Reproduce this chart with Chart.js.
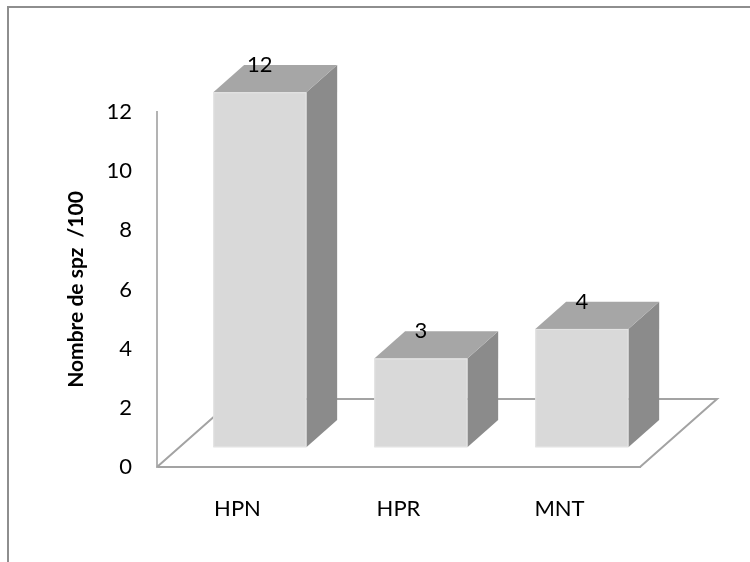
<!DOCTYPE html>
<html>
<head>
<meta charset="utf-8">
<script src="https://cdn.jsdelivr.net/npm/chart.js@4/dist/chart.umd.min.js"></script>
<style>
  html, body { margin: 0; padding: 0; background: #ffffff; }
  canvas { display: block; }
</style>
</head>
<body>
<canvas id="c" width="750" height="562"></canvas>
<script>
// Categories and measured values
const categories = ['HPN', 'HPR', 'MNT'];
const values = [12, 3, 4];
const yTicks = [0, 2, 4, 6, 8, 10, 12];
const yTitle = 'Nombre de spz  /100';

// Oblique projection used for the pseudo-3D floor and boxes
const FLOOR_DX = 77, FLOOR_DY = -68;     // depth of the floor
const FRONT_FRAC = 0.29;                  // where box front faces sit in the floor depth
const DEPTH_FRAC = 0.40;                  // box depth as a share of floor depth
const BAR_FRAC = 0.578;                   // box width as a share of category width

const FONT = 'Lato, "Liberation Sans", sans-serif';

const frame = {
  id: 'frame',
  beforeDraw(chart) {
    const ctx = chart.ctx;
    ctx.save();
    ctx.strokeStyle = '#8e8e8e';
    ctx.lineWidth = 2;
    ctx.beginPath();
    ctx.moveTo(8, 562);
    ctx.lineTo(8, 7);
    ctx.lineTo(750, 7);
    ctx.stroke();
    ctx.restore();
  }
};

const floor3d = {
  id: 'floor3d',
  beforeDatasetsDraw(chart) {
    const {ctx, chartArea: a} = chart;
    ctx.save();
    ctx.strokeStyle = '#a3a3a3';
    ctx.lineWidth = 2;
    ctx.beginPath();
    ctx.moveTo(a.left, a.bottom);
    ctx.lineTo(a.left + FLOOR_DX, a.bottom + FLOOR_DY);
    ctx.lineTo(a.right + FLOOR_DX, a.bottom + FLOOR_DY);
    ctx.lineTo(a.right, a.bottom);
    ctx.stroke();
    ctx.restore();
  }
};

const boxes3d = {
  id: 'boxes3d',
  afterDatasetsDraw(chart) {
    const ctx = chart.ctx;
    const xs = chart.scales.x, ys = chart.scales.y;
    const meta = chart.getDatasetMeta(0);
    const ds = chart.data.datasets[0].data;
    const catW = xs.width / categories.length;
    const bw = catW * BAR_FRAC;
    const ox = FLOOR_DX * FRONT_FRAC, oy = FLOOR_DY * FRONT_FRAC;
    const dx = FLOOR_DX * DEPTH_FRAC, dy = FLOOR_DY * DEPTH_FRAC;
    ctx.save();
    meta.data.forEach((el, i) => {
      const cx = el.x + ox;
      const x0 = cx - bw / 2, x1 = cx + bw / 2;
      const yT = ys.getPixelForValue(ds[i]) + oy;
      const yB = ys.getPixelForValue(0) + oy;
      // side face
      ctx.fillStyle = '#8b8b8b';
      ctx.beginPath();
      ctx.moveTo(x1, yT); ctx.lineTo(x1 + dx, yT + dy);
      ctx.lineTo(x1 + dx, yB + dy); ctx.lineTo(x1, yB);
      ctx.closePath(); ctx.fill();
      // top face
      ctx.fillStyle = '#a6a6a6';
      ctx.beginPath();
      ctx.moveTo(x0, yT); ctx.lineTo(x0 + dx, yT + dy);
      ctx.lineTo(x1 + dx, yT + dy); ctx.lineTo(x1, yT);
      ctx.closePath(); ctx.fill();
      // front face
      ctx.fillStyle = '#d9d9d9';
      ctx.fillRect(x0, yT, bw, yB - yT);
      ctx.strokeStyle = '#e4e4e4';
      ctx.lineWidth = 1;
      ctx.strokeRect(x0 + 0.5, yT + 0.5, bw - 1, yB - yT - 1);
      // value label
      ctx.fillStyle = '#000000';
      ctx.font = '22px ' + FONT;
      ctx.textAlign = 'center';
      ctx.textBaseline = 'middle';
      ctx.fillText(String(ds[i]), cx, yT + dy);
    });
    ctx.restore();
  }
};

new Chart(document.getElementById('c'), {
  type: 'bar',
  data: {
    labels: categories,
    datasets: [{
      data: values,
      backgroundColor: 'rgba(0,0,0,0)',
      borderWidth: 0
    }]
  },
  options: {
    responsive: false,
    animation: false,
    events: [],
    layout: { padding: { top: 112, right: 110, left: 0, bottom: 0 } },
    plugins: { legend: { display: false }, tooltip: { enabled: false } },
    scales: {
      x: {
        offset: true,
        grid: { display: false, drawTicks: false },
        border: { display: true, color: '#a3a3a3', width: 2 },
        ticks: { color: '#000000', font: { family: FONT, size: 22 }, padding: 29 },
        afterFit(s) { s.height = 95; }
      },
      y: {
        min: 0, max: 12,
        afterBuildTicks(s) { s.ticks = yTicks.map(v => ({ value: v })); },
        grid: { display: false, drawTicks: false },
        border: { display: true, color: '#b3b3b3', width: 2 },
        ticks: { color: '#000000', font: { family: FONT, size: 22 }, padding: 25 },
        title: {
          display: true,
          text: yTitle,
          color: '#000000',
          font: { family: FONT, size: 21, weight: 'bold' },
          padding: { top: 64, bottom: 0 }
        },
        afterFit(s) { s.width = 157; }
      }
    }
  },
  plugins: [frame, floor3d, boxes3d]
});
</script>
</body>
</html>
